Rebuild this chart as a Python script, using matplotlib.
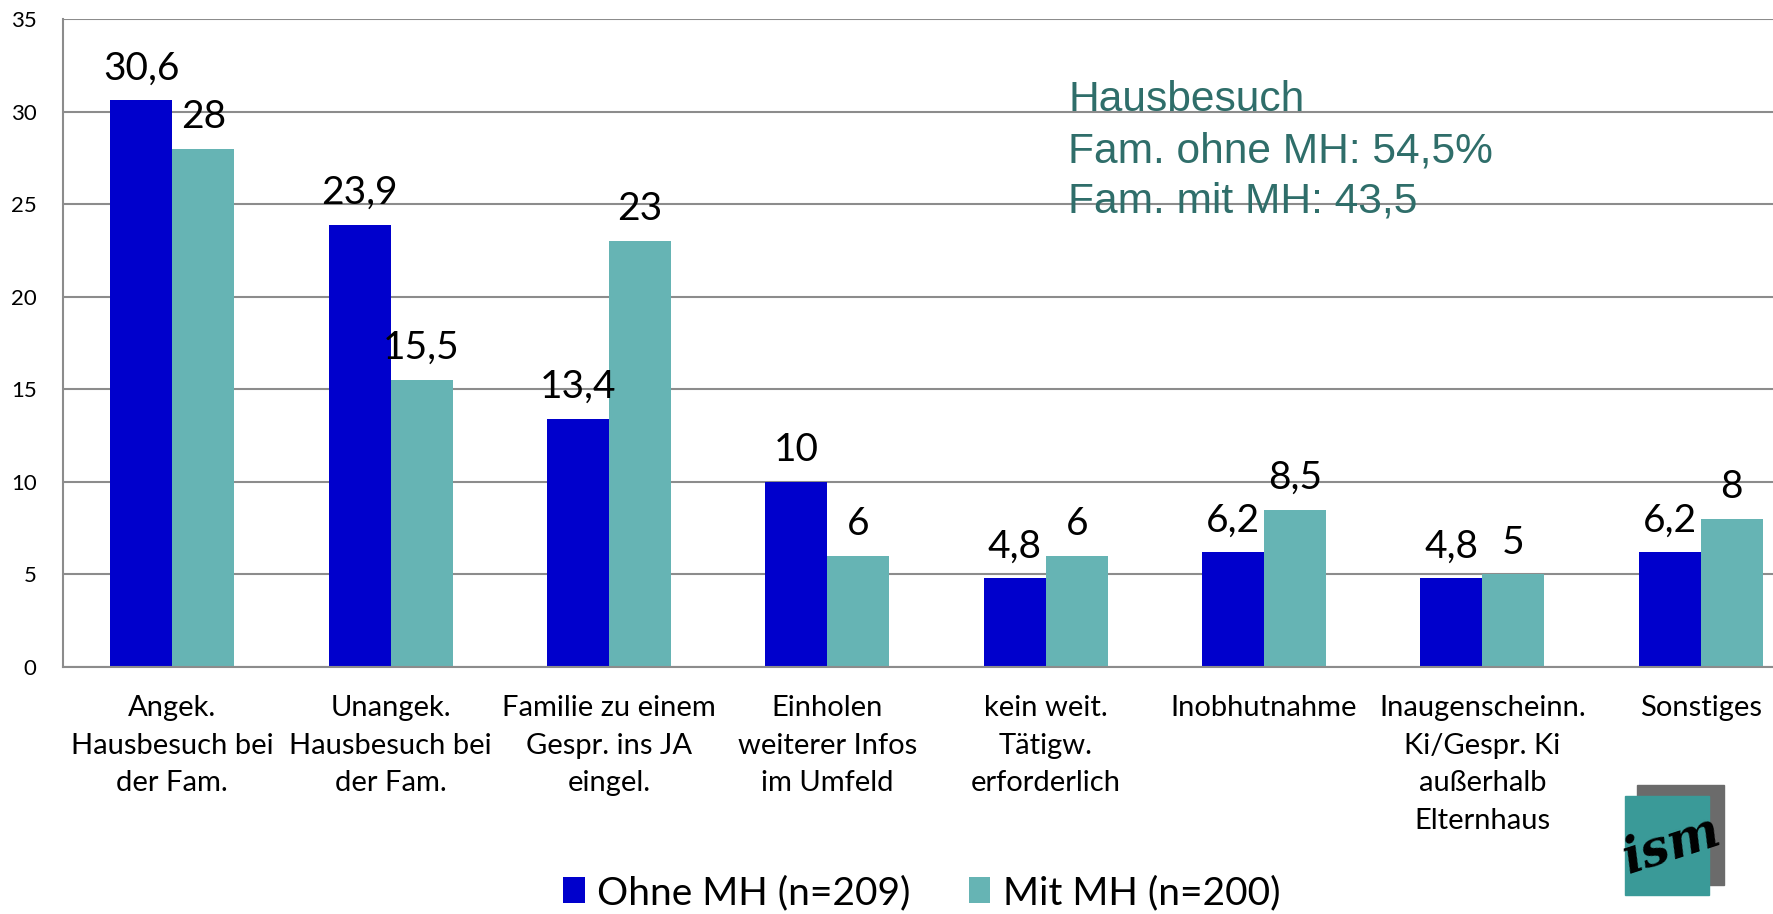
import matplotlib
matplotlib.use("Agg")
import matplotlib.pyplot as plt
from matplotlib.patches import Rectangle
import numpy as np

categories = [
    "Angek.\nHausbesuch bei\nder Fam.",
    "Unangek.\nHausbesuch bei\nder Fam.",
    "Familie zu einem\nGespr. ins JA\neingel.",
    "Einholen\nweiterer Infos\nim Umfeld",
    "kein weit.\nTätigw.\nerforderlich",
    "Inobhutnahme",
    "Inaugenscheinn.\nKi/Gespr. Ki\naußerhalb\nElternhaus",
    "Sonstiges",
]
ohne_mh = [30.6, 23.9, 13.4, 10, 4.8, 6.2, 4.8, 6.2]
mit_mh = [28, 15.5, 23, 6, 6, 8.5, 5, 8]
series_names = ["Ohne MH (n=209)", "Mit MH (n=200)"]
yticks = [0, 5, 10, 15, 20, 25, 30, 35]
note_lines = ["Hausbesuch", "Fam. ohne MH: 54,5%", "Fam. mit MH: 43,5"]

BLUE = "#0000CC"
TEAL = "#66B4B4"
GRID = "#8C8C8C"
NOTE = "#2F6E6A"
FONT = "Lato"

W, H = 1774, 914
fig = plt.figure(figsize=(W / 100, H / 100), dpi=100)

def fx(px):
    return px / W

def fy(py):
    return 1 - py / H

left, right, top, bottom = 63, 1810, 19, 667
ax = fig.add_axes([fx(left), fy(bottom), fx(right - left), (bottom - top) / H])

x = np.arange(len(categories))
bw = 0.284
b1 = ax.bar(x - bw / 2, ohne_mh, bw, color=BLUE, label=series_names[0], zorder=3)
b2 = ax.bar(x + bw / 2, mit_mh, bw, color=TEAL, label=series_names[1], zorder=3)

def fmt(v):
    return f"{v:g}".replace(".", ",")

for cont, vals in ((b1, ohne_mh), (b2, mit_mh)):
    ax.bar_label(cont, labels=[fmt(v) for v in vals], padding=10,
                 fontsize=28, family=FONT, color="black", zorder=4)

ax.set_xlim(-0.5, len(categories) - 0.5)
ax.set_ylim(0, 35)
ax.set_yticks(yticks)
ax.set_yticklabels([str(t) for t in yticks], family=FONT, fontsize=16)
ax.tick_params(axis="y", length=0, pad=19)
ax.set_xticks(x)
ax.set_xticklabels(categories, family=FONT, fontsize=21, linespacing=1.56)
ax.tick_params(axis="x", length=0, pad=20)
ax.yaxis.grid(True, color=GRID, linewidth=1.5, zorder=0)
ax.set_axisbelow(True)
for s in ("top", "right"):
    ax.spines[s].set_visible(False)
for s in ("left", "bottom"):
    ax.spines[s].set_color(GRID)
    ax.spines[s].set_linewidth(1.5)
    ax.spines[s].set_zorder(5)

# note text
for i, line in enumerate(note_lines):
    fig.text(fx(1068), fy(111 + 51 * i), line, family="Liberation Sans",
             fontsize=30.6, color=NOTE, va="baseline", ha="left")

# legend
fig.legend(handles=[b1, b2], labels=series_names, loc="center",
           bbox_to_anchor=(fx(922), fy(893)), ncol=2, frameon=False,
           prop={"family": FONT, "size": 28}, handlelength=0.55,
           handleheight=0.65, handletextpad=0.33, columnspacing=1.5,
           borderpad=0, borderaxespad=0)

# logo
fig.patches.append(Rectangle((fx(1637), fy(885)), fx(1724 - 1637), (885 - 785) / H,
                             transform=fig.transFigure, color="#6B6B6B", zorder=1))
fig.patches.append(Rectangle((fx(1625), fy(895)), fx(1709 - 1625), (895 - 796) / H,
                             transform=fig.transFigure, color="#3A9A98", zorder=2))
fig.text(fx(1672), fy(845), "ism", family="DejaVu Serif", style="italic",
         weight="bold", fontsize=36, color="black", rotation=18,
         ha="center", va="center", zorder=3)

fig.savefig("out.png", dpi=100)
